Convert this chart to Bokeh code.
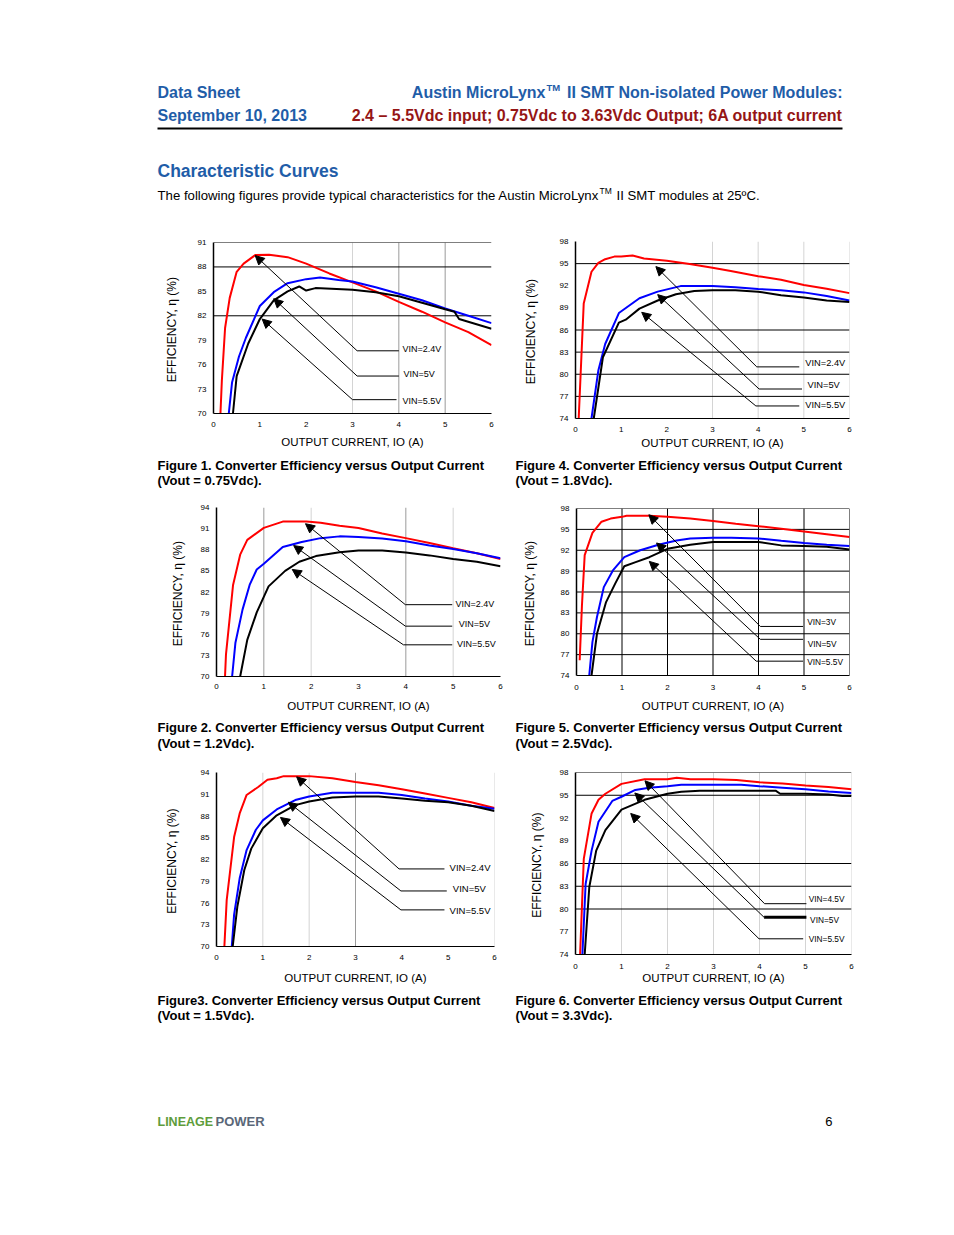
from bokeh.plotting import figure
from bokeh.models import Range1d, FixedTicker, Span, Arrow, NormalHead, ColumnDataSource
from bokeh.layouts import column, row
from bokeh.embed import file_html
from bokeh.resources import INLINE
from bokeh.core.properties import value

FONT = "Liberation Sans"
BLUE = "#1F5DA8"
DARKRED = "#951515"
GREEN = "#5E9C3B"
SLATE = "#5A6778"

X_TICKS = [0, 1, 2, 3, 4, 5, 6]
X_TITLE = "OUTPUT CURRENT, IO (A)"
Y_TITLE = "EFFICIENCY, \u03b7  (%)"

# ---------------- Figure 1 (Vout = 0.75Vdc) ----------------
f1_red_x = [0.15, 0.18, 0.25, 0.35, 0.5, 0.65, 0.9, 1.2, 1.6, 2.0, 2.5, 3.0, 3.5, 4.0, 4.5, 5.0, 5.5, 6.0]
f1_red_y = [70, 74, 80.5, 84.2, 87.4, 88.4, 89.45, 89.5, 89.2, 88.4, 87.2, 86.1, 85.0, 83.7, 82.5, 81.2, 80.0, 78.4]
f1_blue_x = [0.33, 0.4, 0.55, 0.7, 1.0, 1.3, 1.6, 2.0, 2.3, 2.7, 3.0, 3.5, 4.0, 4.5, 5.0, 5.5, 6.0]
f1_blue_y = [70, 73.8, 77.0, 79.3, 83.2, 84.9, 86.0, 86.5, 86.7, 86.4, 86.2, 85.5, 84.7, 83.9, 82.9, 82.0, 81.1]
f1_black_x = [0.42, 0.5, 0.75, 1.0, 1.3, 1.6, 1.85, 2.0, 2.2, 3.0, 3.5, 4.0, 4.5, 5.0, 5.2, 5.3, 6.0]
f1_black_y = [70, 74.6, 78.6, 81.6, 83.9, 85.0, 85.6, 85.1, 85.4, 85.2, 84.9, 84.4, 83.6, 82.8, 82.5, 81.6, 80.4]
f1_labels = ["VIN=2.4V", "VIN=5V", "VIN=5.5V"]
f1_elbow_x = [3.1, 3.1, 3.0]
f1_elbow_y = [77.7, 74.6, 71.7]
f1_tip_x = [0.9, 1.3, 1.05]
f1_tip_y = [89.4, 84.1, 81.6]
f1_lead_end = [4.0, 4.0, 3.95]
f1_label_x = [4.08, 4.1, 4.08]
f1_label_y = [77.86, 74.88, 71.51]
f1_y_ticks = [70, 73, 76, 79, 82, 85, 88, 91]

# ---------------- Figure 4 (Vout = 1.8Vdc) ----------------
f4_red_x = [0.07, 0.18, 0.35, 0.5, 0.65, 0.85, 1.0, 1.25, 1.5, 2.0, 2.5, 3.0, 3.4, 4.0, 4.5, 5.0, 5.5, 6.0]
f4_red_y = [74, 89.6, 93.9, 95.1, 95.6, 95.95, 95.95, 96.1, 95.7, 95.4, 94.95, 94.45, 94.0, 93.3, 92.8, 92.1, 91.6, 91.0]
f4_blue_x = [0.35, 0.5, 0.65, 0.95, 1.4, 1.8, 2.3, 3.0, 3.5, 4.0, 4.5, 5.0, 5.5, 6.0]
f4_blue_y = [74, 80.5, 84.1, 88.3, 90.3, 91.2, 91.95, 91.95, 91.8, 91.55, 91.4, 91.1, 90.6, 90.0]
f4_black_x = [0.4, 0.6, 0.95, 1.1, 1.4, 1.8, 2.2, 2.6, 3.0, 3.5, 4.0, 4.5, 5.0, 5.5, 6.0]
f4_black_y = [74, 82.3, 87.0, 87.4, 88.9, 90.0, 90.85, 91.3, 91.4, 91.4, 91.2, 90.7, 90.4, 90.0, 89.8]
f4_labels = ["VIN=2.4V", "VIN=5V", "VIN=5.5V"]
f4_elbow_x = [3.97, 4.02, 3.95]
f4_elbow_y = [81.0, 78.0, 75.7]
f4_tip_x = [1.76, 1.8, 1.45]
f4_tip_y = [94.6, 90.8, 88.4]
f4_lead_end = [4.9, 4.96, 4.9]
f4_label_x = [5.03, 5.08, 5.03]
f4_label_y = [81.47, 78.56, 75.83]
f4_y_ticks = [74, 77, 80, 83, 86, 89, 92, 95, 98]

# ---------------- Figure 2 (Vout = 1.2Vdc) ----------------
f2_red_x = [0.18, 0.2, 0.35, 0.5, 0.65, 1.0, 1.4, 1.9, 2.2, 2.6, 3.0, 3.5, 4.0, 4.5, 5.0, 5.5, 6.0]
f2_red_y = [70, 73.1, 83.0, 87.3, 89.4, 91.1, 92.0, 92.0, 91.85, 91.4, 91.1, 90.3, 89.65, 88.95, 88.2, 87.5, 86.7]
f2_blue_x = [0.33, 0.4, 0.55, 0.7, 0.85, 1.0, 1.4, 1.8, 2.2, 2.6, 3.0, 3.5, 4.0, 4.5, 5.0, 5.5, 6.0]
f2_blue_y = [70, 74.8, 79.5, 83.0, 85.2, 86.0, 88.4, 89.1, 89.65, 89.9, 89.8, 89.6, 89.2, 88.6, 88.1, 87.5, 86.8]
f2_black_x = [0.5, 0.65, 0.85, 1.1, 1.45, 1.75, 2.1, 2.6, 3.0, 3.5, 4.0, 4.5, 5.0, 5.5, 6.0]
f2_black_y = [70, 75.2, 79.1, 82.8, 85.0, 86.3, 87.1, 87.65, 87.9, 87.9, 87.6, 87.2, 86.7, 86.3, 85.65]
f2_labels = ["VIN=2.4V", "VIN=5V", "VIN=5.5V"]
f2_elbow_x = [3.99, 3.99, 3.95]
f2_elbow_y = [80.2, 77.15, 74.5]
f2_tip_x = [1.88, 1.63, 1.6]
f2_tip_y = [91.7, 88.6, 85.2]
f2_lead_end = [4.98, 4.98, 4.98]
f2_label_x = [5.05, 5.12, 5.08]
f2_label_y = [80.27, 77.4, 74.63]
f2_y_ticks = [70, 73, 76, 79, 82, 85, 88, 91, 94]

# ---------------- Figure 5 (Vout = 2.5Vdc) ----------------
f5_red_x = [0.07, 0.12, 0.18, 0.35, 0.55, 0.75, 1.0, 1.1, 1.6, 2.0, 2.5, 3.0, 3.5, 4.0, 4.5, 5.0, 5.5, 6.0]
f5_red_y = [76.2, 84.1, 91.3, 94.5, 96.1, 96.55, 96.8, 96.95, 96.95, 96.8, 96.55, 96.2, 95.8, 95.45, 95.1, 94.7, 94.3, 93.9]
f5_blue_x = [0.28, 0.35, 0.45, 0.6, 0.8, 1.05, 1.4, 1.8, 2.2, 2.5, 3.0, 3.4, 4.0, 4.5, 5.0, 5.5, 6.0]
f5_blue_y = [74, 78.8, 82.4, 86.7, 89.1, 91.0, 92.0, 92.8, 93.4, 93.7, 93.8, 93.8, 93.7, 93.35, 93.05, 92.8, 92.6]
f5_black_x = [0.33, 0.45, 0.65, 0.85, 1.05, 1.3, 1.6, 2.0, 2.5, 3.0, 3.5, 4.0, 4.5, 5.0, 5.5, 6.0]
f5_black_y = [74, 80.0, 84.55, 87.2, 89.7, 90.3, 91.0, 92.2, 92.8, 93.2, 93.2, 93.2, 92.7, 92.6, 92.5, 92.1]
f5_labels = ["VIN=3V", "VIN=5V", "VIN=5.5V"]
f5_elbow_x = [4.04, 4.04, 3.95]
f5_elbow_y = [81.05, 79.2, 76.06]
f5_tip_x = [1.59, 1.76, 1.6]
f5_tip_y = [97.1, 93.05, 90.4]
f5_lead_end = [4.98, 4.98, 4.98]
f5_label_x = [5.07, 5.08, 5.07]
f5_label_y = [81.67, 78.56, 75.91]
f5_y_ticks = [74, 77, 80, 83, 86, 89, 92, 95, 98]

# ---------------- Figure 3 (Vout = 1.5Vdc) ----------------
f3_red_x = [0.17, 0.22, 0.38, 0.5, 0.65, 0.9, 1.1, 1.3, 1.45, 2.0, 2.5, 3.0, 3.5, 4.0, 4.5, 5.0, 5.5, 6.0]
f3_red_y = [70, 76.4, 85.1, 88.35, 90.9, 92.0, 93.0, 93.2, 93.5, 93.5, 93.2, 92.7, 92.25, 91.7, 91.1, 90.5, 89.9, 89.1]
f3_blue_x = [0.33, 0.38, 0.5, 0.65, 0.85, 1.0, 1.3, 1.7, 2.0, 2.5, 3.0, 3.5, 4.0, 4.5, 5.0, 5.5, 6.0]
f3_blue_y = [70, 74.4, 79.4, 83.3, 86.1, 87.4, 88.9, 90.2, 90.7, 91.2, 91.2, 91.2, 90.9, 90.4, 90.0, 89.4, 89.0]
f3_black_x = [0.35, 0.45, 0.6, 0.75, 1.0, 1.3, 1.7, 2.0, 2.5, 3.0, 3.5, 4.0, 4.5, 5.0, 5.5, 6.0]
f3_black_y = [70, 75.5, 80.55, 83.5, 86.3, 88.1, 89.5, 90.0, 90.55, 90.7, 90.7, 90.4, 90.1, 89.9, 89.4, 88.7]
f3_labels = ["VIN=2.4V", "VIN=5V", "VIN=5.5V"]
f3_elbow_x = [3.94, 3.98, 3.98]
f3_elbow_y = [80.7, 77.66, 75.05]
f3_tip_x = [1.73, 1.55, 1.38]
f3_tip_y = [93.4, 89.9, 87.8]
f3_lead_end = [4.92, 4.97, 4.92]
f3_label_x = [5.03, 5.1, 5.03]
f3_label_y = [80.87, 78.03, 74.95]
f3_y_ticks = [70, 73, 76, 79, 82, 85, 88, 91, 94]

# ---------------- Figure 6 (Vout = 3.3Vdc) ----------------
f6_red_x = [0.1, 0.18, 0.35, 0.5, 0.65, 1.0, 1.5, 2.0, 2.2, 2.5, 3.0, 3.5, 4.0, 4.5, 5.0, 5.5, 6.0]
f6_red_y = [74, 86.6, 92.6, 94.4, 95.2, 96.5, 97.1, 97.1, 97.3, 97.1, 97.1, 97.0, 96.7, 96.55, 96.3, 96.1, 95.8]
f6_blue_x = [0.15, 0.22, 0.35, 0.5, 0.8, 1.0, 1.3, 1.6, 2.0, 2.3, 3.0, 3.6, 4.0, 4.5, 5.0, 5.5, 6.0]
f6_blue_y = [74, 83.3, 87.7, 91.5, 94.25, 94.8, 95.7, 96.0, 96.2, 96.4, 96.4, 96.4, 96.2, 96.0, 95.8, 95.5, 95.3]
f6_black_x = [0.2, 0.3, 0.45, 0.65, 1.0, 1.5, 2.0, 2.3, 2.7, 3.0, 4.0, 4.35, 4.45, 5.0, 5.5, 5.8, 6.0]
f6_black_y = [74, 82.9, 87.7, 90.4, 93.1, 94.4, 95.2, 95.45, 95.6, 95.6, 95.6, 95.6, 95.2, 95.2, 95.1, 94.9, 94.9]
f6_labels = ["VIN=4.5V", "VIN=5V", "VIN=5.5V"]
f6_elbow_x = [4.11, 4.1, 3.99]
f6_elbow_y = [80.7, 78.9, 76.07]
f6_tip_x = [1.51, 1.29, 1.2]
f6_tip_y = [96.9, 95.3, 92.6]
f6_lead_end = [5.02, 5.02, 4.95]
f6_label_x = [5.07, 5.1, 5.07]
f6_label_y = [81.36, 78.49, 75.98]
f6_y_ticks = [74, 77, 80, 83, 86, 89, 92, 95, 98]

captions = [
    ("Figure 1. Converter Efficiency versus Output Current", "(Vout = 0.75Vdc)."),
    ("Figure 4. Converter Efficiency versus Output Current", "(Vout = 1.8Vdc)."),
    ("Figure 2. Converter Efficiency versus Output Current", "(Vout = 1.2Vdc)."),
    ("Figure 5. Converter Efficiency versus Output Current", "(Vout = 2.5Vdc)."),
    ("Figure3. Converter Efficiency versus Output Current", "(Vout = 1.5Vdc)."),
    ("Figure 6. Converter Efficiency versus Output Current", "(Vout = 3.3Vdc)."),
]

LIGHT = "#d4d4d4"
MID = "#9a9a9a"


def chart(width, height, yticks, borders, curves, ann, hlines, vlines,
          ystand, xstand, xlabstand, lab_size, lead_widths=(1, 1, 1)):
    l, r, t, b = borders
    p = figure(width=width, height=height,
               x_range=Range1d(0, 6), y_range=Range1d(yticks[0], yticks[-1]),
               output_backend="svg", toolbar_location=None,
               min_border_left=l, min_border_right=r,
               min_border_top=t, min_border_bottom=b)
    p.outline_line_color = None
    p.xgrid.visible = False
    p.ygrid.visible = False
    for loc, col in vlines:
        p.add_layout(Span(location=loc, dimension="height", line_color=col,
                          line_width=1, level="underlay"))
    for loc in hlines:
        p.add_layout(Span(location=loc, dimension="width", line_color="black",
                          line_width=1, level="underlay"))
    p.xaxis.ticker = FixedTicker(ticks=X_TICKS)
    p.yaxis.ticker = FixedTicker(ticks=yticks)
    for ax in (p.xaxis[0], p.yaxis[0]):
        ax.major_tick_line_color = None
        ax.minor_tick_line_color = None
        ax.major_tick_out = 0
        ax.major_tick_in = 0
        ax.major_label_text_font = FONT
        ax.major_label_text_font_size = "8px"
        ax.major_label_text_color = "black"
        ax.axis_label_text_font = FONT
        ax.axis_label_text_font_style = "normal"
        ax.axis_label_text_color = "black"
        ax.axis_line_color = "black"
    p.xaxis.axis_label_text_font_size = "11.5px"
    p.yaxis.axis_label_text_font_size = "12px"
    p.yaxis.axis_line_width = 1.5
    p.xaxis.axis_line_width = 1
    p.yaxis.major_label_standoff = 7
    p.yaxis.axis_label_standoff = ystand
    p.xaxis.major_label_standoff = xstand
    p.xaxis.axis_label_standoff = xlabstand
    p.xaxis.axis_label = X_TITLE
    p.yaxis.axis_label = Y_TITLE

    (rx, ry), (bx, by), (kx, ky) = curves
    p.line(rx, ry, line_color="#ff0000", line_width=2)
    p.line(bx, by, line_color="#0000ff", line_width=2)
    p.line(kx, ky, line_color="black", line_width=2)

    labels, ex, ey, tx, ty, le, lx, ly = ann
    src = ColumnDataSource(dict(x0=ex, y0=ey, x1=tx, y1=ty, xe=le, xl=lx, yl=ly,
                                lab=labels, lw=list(lead_widths)))
    p.add_layout(Arrow(end=NormalHead(size=9, fill_color="black", line_color="black", line_width=1),
                       x_start="x0", y_start="y0", x_end="x1", y_end="y1",
                       source=src, line_color="black", line_width=1))
    p.segment(x0="x0", y0="y0", x1="xe", y1="y0", source=src,
              line_color="black", line_width="lw")
    p.text(x="xl", y="yl", text="lab", source=src, text_font=value(FONT),
           text_font_size=lab_size, text_color="black",
           text_baseline="middle", text_align="left")
    return p


def text_fig(w, h):
    p = figure(width=w, height=h, x_range=Range1d(0, w), y_range=Range1d(h, 0),
               x_axis_type=None, y_axis_type=None, output_backend="svg",
               toolbar_location=None, min_border=0)
    p.outline_line_color = None
    p.grid.visible = False
    return p


def put(p, x, y, s, size, color="black", bold=False, align="left"):
    p.text(x=[x], y=[y], text=[s], text_font=value(FONT), text_font_size=size,
           text_color=color, text_font_style="bold" if bold else "normal",
           text_align=align, text_baseline="middle")


def caption_strip(h, left_pair, right_pair, y1, y2):
    p = text_fig(946, h)
    for x, pair in ((157, left_pair), (515, right_pair)):
        put(p, x, y1, pair[0], "13px", bold=True)
        put(p, x, y2, pair[1], "13px", bold=True)
    return p


WL, WR = 510, 436

# header (page coordinates)
hdr = text_fig(946, 228)
put(hdr, 157, 92, "Data Sheet", "16px", BLUE, True)
put(hdr, 157, 115, "September 10, 2013", "16px", BLUE, True)
put(hdr, 545, 92, "Austin MicroLynx", "16px", BLUE, True, "right")
put(hdr, 546, 87, "TM", "9.5px", BLUE, True)
put(hdr, 842, 92, "II SMT Non-isolated Power Modules:", "16px", BLUE, True, "right")
put(hdr, 842, 115, "2.4 \u2013 5.5Vdc input; 0.75Vdc to 3.63Vdc Output; 6A output current",
    "16px", DARKRED, True, "right")
hdr.segment(x0=[157], y0=[128], x1=[842], y1=[128], line_color="black", line_width=2)
put(hdr, 157, 170, "Characteristic Curves", "17.5px", BLUE, True)
put(hdr, 157, 195, "The following figures provide typical characteristics for the Austin MicroLynx", "13.2px")
put(hdr, 599, 190, "TM", "8.5px")
put(hdr, 616, 195, "II  SMT modules at 25\u00baC.", "13.2px")

# row 1 (page y 228..452), captions 452..490
f1 = chart(WL, 224, f1_y_ticks, (213, 19, 14, 39),
           [(f1_red_x, f1_red_y), (f1_blue_x, f1_blue_y), (f1_black_x, f1_black_y)],
           (f1_labels, f1_elbow_x, f1_elbow_y, f1_tip_x, f1_tip_y, f1_lead_end, f1_label_x, f1_label_y),
           [82, 88, 91], [(3, LIGHT), (4, MID), (5, MID)],
           16, 8, 6, "9px")
f4 = chart(WR, 224, f4_y_ticks, (65, 97, 13, 34),
           [(f4_red_x, f4_red_y), (f4_blue_x, f4_blue_y), (f4_black_x, f4_black_y)],
           (f4_labels, f4_elbow_x, f4_elbow_y, f4_tip_x, f4_tip_y, f4_lead_end, f4_label_x, f4_label_y),
           [77, 80, 83, 86, 95], [(3, LIGHT), (4, LIGHT), (5, LIGHT), (6, LIGHT)],
           19, 8, 2, "9.3px")
cap1 = caption_strip(38, captions[0], captions[1], 13, 28)

# row 2 (page y 490..715), captions 715..755
f2 = chart(WL, 225, f2_y_ticks, (216, 10, 17, 39),
           [(f2_red_x, f2_red_y), (f2_blue_x, f2_blue_y), (f2_black_x, f2_black_y)],
           (f2_labels, f2_elbow_x, f2_elbow_y, f2_tip_x, f2_tip_y, f2_lead_end, f2_label_x, f2_label_y),
           [], [(1, MID), (2, LIGHT), (4, MID), (5, LIGHT)],
           13, 7, 8, "9px")
f5 = chart(WR, 225, f5_y_ticks, (66, 97, 18, 40),
           [(f5_red_x, f5_red_y), (f5_blue_x, f5_blue_y), (f5_black_x, f5_black_y)],
           (f5_labels, f5_elbow_x, f5_elbow_y, f5_tip_x, f5_tip_y, f5_lead_end, f5_label_x, f5_label_y),
           [77, 80, 83, 86, 89, 92, 95, 98],
           [(1, "black"), (2, "black"), (3, "black"), (4, "black"), (5, "black"), (6, "black")],
           21, 9, 7, "8.3px")
cap2 = caption_strip(40, captions[2], captions[3], 12, 28)

# row 3 (page y 755..988), captions 988..1025
f3 = chart(WL, 233, f3_y_ticks, (216, 16, 17, 42),
           [(f3_red_x, f3_red_y), (f3_blue_x, f3_blue_y), (f3_black_x, f3_black_y)],
           (f3_labels, f3_elbow_x, f3_elbow_y, f3_tip_x, f3_tip_y, f3_lead_end, f3_label_x, f3_label_y),
           [], [(1, LIGHT), (2, LIGHT), (3, MID), (6, LIGHT)],
           19, 8, 9, "9.5px")
f6 = chart(WR, 233, f6_y_ticks, (65, 95, 17, 34),
           [(f6_red_x, f6_red_y), (f6_blue_x, f6_blue_y), (f6_black_x, f6_black_y)],
           (f6_labels, f6_elbow_x, f6_elbow_y, f6_tip_x, f6_tip_y, f6_lead_end, f6_label_x, f6_label_y),
           [80, 83, 86, 95, 98], [(1, LIGHT), (2, LIGHT), (3, LIGHT), (4, LIGHT), (5, LIGHT), (6, LIGHT)],
           13, 9, 0, "8.3px", lead_widths=(1, 3, 1))
cap3 = caption_strip(37, captions[4], captions[5], 12, 27)

# footer (page y 1025..1135)
ftr = text_fig(946, 110)
put(ftr, 157, 96, "LINEAGE", "12.5px", GREEN, True)
put(ftr, 215, 96, "POWER", "13px", SLATE, True)
put(ftr, 832, 96, "6", "13px", "black", False, "right")

page = column(
    hdr,
    row(column(f1), column(f4)),
    cap1,
    row(column(f2), column(f5)),
    cap2,
    row(column(f3), column(f6)),
    cap3,
    ftr,
)

open("out.html", "w").write(file_html(page, INLINE))
